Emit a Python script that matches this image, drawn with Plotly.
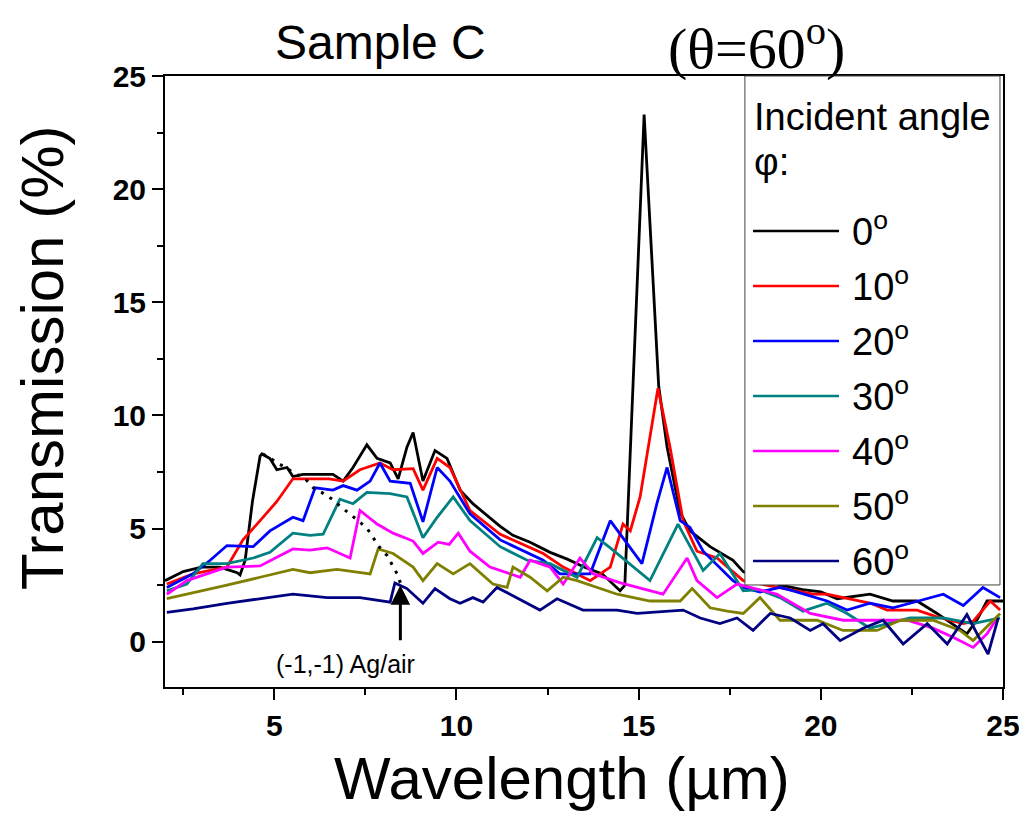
import plotly.graph_objs as go

# angle labels and colours for the 7 curves
angles = ['0', '10', '20', '30', '40', '50', '60']
colors = ['#000000', '#FF0000', '#0000FF', '#008080', '#FF00FF', '#808000', '#000080']

# wavelength (um) / transmission (%)
x0 = [2.0, 2.5, 3.0, 3.5, 3.7, 3.98, 4.06, 4.2, 4.4, 4.61, 4.66, 4.88, 5.07, 5.35, 5.51, 5.79, 6.3, 6.61, 6.89,
      7.16, 7.54, 7.82, 8.18, 8.4, 8.64, 8.81, 9.08, 9.41, 9.74, 10.1, 10.45, 10.84, 11.2, 11.55, 12.02, 12.57,
      13.04, 13.5, 14.0, 14.49, 14.62, 15.15, 15.55, 15.78, 16.14, 16.41, 16.96, 17.59, 17.87, 18.3, 18.9, 19.5,
      20.0, 20.45, 20.9, 21.35, 21.98, 22.64, 23.19, 23.6, 24.01, 24.3, 24.56, 25.0]
y0 = [2.7, 3.1, 3.3, 3.3, 3.2, 3.05, 2.95, 3.6, 6.2, 8.2, 8.3, 8.1, 7.6, 7.7, 7.3, 7.4, 7.4, 7.4, 7.1,
      7.7, 8.7, 8.1, 7.9, 7.2, 8.6, 9.25, 7.1, 8.45, 8.1, 6.7, 6.1, 5.6, 5.1, 4.7, 4.4, 3.95,
      3.65, 3.3, 3.0, 2.25, 2.5, 23.3, 11.3, 8.6, 5.7, 4.9, 4.2, 3.6, 3.1, 2.8, 2.5, 2.3,
      2.2, 1.9, 2.0, 2.1, 1.8, 1.8, 1.25, 0.8, 0.35, 1.0, 1.8, 1.8]

x1 = [2.05, 2.77, 3.7, 4.14, 4.61, 5.07, 5.51, 5.98, 6.5, 6.89, 7.35, 7.9, 8.26, 8.81, 9.08, 9.47, 9.82,
      10.37, 11.2, 12.38, 12.93, 13.67, 14.22, 14.57, 14.77, 15.04, 15.53, 15.86, 16.22, 16.6, 17.15, 17.87,
      18.5, 19.24, 19.79, 20.17, 20.8, 21.37, 21.82, 22.64, 23.19, 23.91, 24.18, 24.65, 24.92]
y1 = [2.55, 3.0, 3.3, 4.5, 5.35, 6.2, 7.2, 7.2, 7.2, 7.1, 7.6, 7.9, 7.6, 7.65, 6.7, 8.1, 7.7,
      5.8, 4.75, 3.9, 3.3, 2.7, 3.3, 5.2, 4.9, 6.4, 11.2, 8.6, 5.35, 4.0, 3.7, 2.7,
      2.5, 2.25, 2.1, 2.1, 1.9, 1.7, 1.4, 1.4, 1.1, 0.8, 0.9, 1.8, 1.4]

x2 = [2.05, 2.77, 3.24, 3.7, 4.42, 4.88, 5.51, 5.79, 6.12, 6.61, 6.89, 7.27, 7.63, 7.9, 8.18, 8.73, 9.08,
      9.47, 9.82, 10.37, 11.2, 12.38, 12.84, 13.67, 14.22, 14.57, 15.09, 15.5, 15.78, 16.14, 16.41, 16.77,
      17.59, 17.87, 18.33, 18.88, 19.24, 20.17, 20.72, 21.35, 21.98, 22.45, 23.36, 23.91, 24.45, 24.92]
y2 = [2.4, 3.0, 3.6, 4.25, 4.2, 4.9, 5.5, 5.35, 6.8, 6.7, 6.9, 6.7, 7.1, 7.9, 7.1, 7.0, 5.3,
      7.7, 7.1, 5.65, 4.5, 3.6, 3.0, 3.0, 5.35, 4.6, 3.45, 6.1, 7.7, 5.35, 5.05, 4.0,
      2.7, 2.4, 2.2, 2.4, 2.25, 1.8, 1.4, 1.7, 1.5, 1.7, 2.1, 1.6, 2.4, 1.95]

x3 = [2.05, 2.6, 3.04, 3.7, 4.42, 4.88, 5.51, 5.98, 6.34, 6.8, 7.16, 7.54, 8.18, 8.64, 9.08, 9.47, 9.91,
      10.37, 11.2, 11.94, 12.57, 13.31, 13.86, 14.22, 15.31, 16.08, 16.77, 17.23, 17.87, 18.3, 18.88, 19.51,
      20.17, 20.72, 21.35, 22.45, 23.36, 24.18, 24.92]
y3 = [2.25, 2.55, 3.45, 3.45, 3.7, 3.95, 4.8, 4.7, 4.75, 6.3, 6.1, 6.6, 6.55, 6.4, 4.6, 5.5, 6.4,
      5.35, 4.2, 3.6, 3.45, 2.85, 4.6, 4.15, 2.7, 5.2, 3.15, 3.9, 2.25, 2.3, 1.95, 1.35,
      1.7, 1.25, 0.6, 1.05, 1.05, 0.8, 1.05]

x4 = [2.05, 2.6, 3.7, 4.61, 5.51, 5.98, 6.45, 7.08, 7.35, 7.82, 8.26, 8.81, 9.08, 9.5, 9.8, 10.05, 10.37,
      10.92, 11.75, 12.02, 12.57, 12.93, 13.39, 13.75, 14.5, 15.31, 15.67, 16.33, 16.6, 17.15, 17.7, 18.06,
      18.8, 19.71, 20.61, 21.54, 22.37, 23.08, 23.63, 24.18, 24.56, 24.84]
y4 = [2.1, 2.7, 3.3, 3.35, 4.1, 4.05, 4.15, 3.7, 5.8, 5.2, 4.8, 4.45, 3.9, 4.4, 4.3, 4.8, 4.0,
      3.3, 2.85, 3.6, 3.3, 2.55, 3.7, 3.0, 2.6, 2.25, 2.1, 3.7, 2.7, 1.95, 2.55, 2.4,
      2.1, 1.25, 0.95, 0.95, 0.95, 0.6, 0.2, -0.25, 0.35, 1.05]

x5 = [2.05, 2.77, 3.7, 4.61, 5.51, 5.98, 6.72, 7.63, 7.85, 8.26, 8.81, 9.08, 9.47, 9.91, 10.37, 11.0, 11.39,
      11.55, 12.02, 12.49, 12.93, 13.31, 14.41, 15.31, 16.14, 16.47, 16.96, 17.43, 17.87, 18.33, 18.88, 19.9,
      20.61, 21.54, 22.18, 23.08, 23.82, 24.18, 24.92]
y5 = [1.9, 2.15, 2.5, 2.85, 3.2, 3.05, 3.2, 3.0, 4.1, 3.9, 3.3, 2.7, 3.45, 3.0, 3.45, 2.55, 2.4,
      3.3, 2.85, 2.25, 2.85, 2.7, 2.1, 1.8, 1.8, 2.35, 1.5, 1.35, 1.25, 1.95, 0.95, 0.95,
      0.5, 0.5, 0.95, 0.95, 0.5, 0.05, 1.25]

x6 = [2.05, 2.77, 3.7, 4.61, 5.51, 6.45, 7.35, 8.18, 8.31, 8.64, 9.08, 9.41, 9.82, 10.1, 10.45, 10.73, 11.11,
      11.47, 12.29, 12.76, 13.47, 14.41, 14.96, 16.22, 16.69, 17.23, 17.7, 18.14, 18.61, 19.16, 19.71, 20.06,
      20.53, 21.16, 21.71, 22.26, 22.92, 23.47, 24.01, 24.29, 24.59, 24.87]
y6 = [1.3, 1.45, 1.7, 1.9, 2.1, 1.95, 1.95, 1.75, 2.6, 2.35, 1.7, 2.35, 1.9, 1.7, 1.95, 1.75, 2.4,
      2.1, 1.4, 1.9, 1.4, 1.4, 1.25, 1.4, 1.05, 0.8, 1.05, 0.5, 1.25, 1.05, 0.5, 0.8,
      0.05, 0.6, 0.95, -0.1, 0.8, -0.1, 1.2, 0.35, -0.55, 1.05]

# dotted guide line for the (-1,-1) Ag/air mode
xd = [4.69, 5.08, 5.45, 5.85, 6.07, 6.3, 6.59, 6.8, 7.08, 7.3, 7.55, 7.71, 7.9, 8.1, 8.24, 8.37, 8.46]
yd = [8.3, 7.9, 7.55, 7.2, 6.8, 6.6, 6.3, 6.0, 5.65, 5.35, 5.0, 4.6, 4.15, 3.8, 3.35, 3.0, 2.6]

xs = [x0, x1, x2, x3, x4, x5, x6]
ys = [y0, y1, y2, y3, y4, y5, y6]

fig = go.Figure()
for xx, yy, a, c in zip(xs, ys, angles, colors):
    fig.add_trace(go.Scatter(x=xx, y=yy, mode='lines', name=a + '°',
                             line=dict(color=c, width=2.8), showlegend=False))

fig.add_trace(go.Scatter(x=xd, y=yd, mode='lines', showlegend=False,
                         line=dict(color='black', width=3, dash='3px,7px')))

axis_font = dict(family='Liberation Sans, Arial', size=30, color='black', weight='bold')
minor_ticks = dict(tickvals=[2.5, 7.5, 12.5, 17.5, 22.5], ticks='outside', ticklen=6,
                   tickwidth=2, tickcolor='black')
fig.update_layout(
    width=1027, height=823,
    # page has an 8px body margin, so shift the plot area back by 8px
    margin=dict(l=157, r=32, t=68, b=144),
    paper_bgcolor='white', plot_bgcolor='white',
    font=dict(family='Liberation Sans, Arial', color='black'),
    xaxis=dict(range=[2, 25], tickvals=[5, 10, 15, 20, 25], ticks='outside', ticklen=11, tickwidth=2,
               tickcolor='black', showline=True, linecolor='black', linewidth=2, mirror=True,
               showgrid=False, zeroline=False, tickfont=axis_font, ticklabelstandoff=0,
               minor=minor_ticks),
    yaxis=dict(range=[-2, 25], tickvals=[0, 5, 10, 15, 20, 25], ticks='outside', ticklen=11, tickwidth=2,
               tickcolor='black', showline=True, linecolor='black', linewidth=2, mirror=True,
               showgrid=False, zeroline=False, tickfont=axis_font, minor=minor_ticks),
)


def label(text, x, y, size, xref='paper', yref='paper', family=None, **kw):
    kw.setdefault('xanchor', 'center')
    fig.add_annotation(text=text, x=x, y=y, xref=xref, yref=yref, showarrow=False,
                       yanchor='middle', font=dict(size=size, family=family), **kw)


# titles
label('Sample C', 0.2566, 1.0556, 48)
label('(θ=60<sup>o</sup>)', 0.7064, 1.051, 58, family='Liberation Serif, Times New Roman')
label('Wavelength (µm)', 0.4737, -0.149, 60)
label('Transmission (%)', -0.1468, 0.54, 60, textangle=-90)

# arrow + label
fig.add_annotation(x=8.46, y=2.5, ax=8.46, ay=0.0, xref='x', yref='y', axref='x', ayref='y', text='',
                   showarrow=True, arrowhead=2, arrowsize=1.3, arrowwidth=3, arrowcolor='black')
label('(-1,-1) Ag/air', 6.95, -0.97, 25, xref='x', yref='y')

# legend box drawn by hand so the lines are long like the original
fig.add_shape(type='rect', xref='paper', yref='paper', x0=0.692, x1=0.9964, y0=0.167, y1=1.0,
              line=dict(color='#444444', width=1), fillcolor='white', layer='above')
label('Incident angle', 0.7005, 0.9329, 38, xanchor='left')
label('φ:', 0.7005, 0.8593, 38, xanchor='left')
for i, (a, c) in enumerate(zip(angles, colors)):
    yy = 0.7463 - i * 0.09002
    fig.add_shape(type='line', xref='paper', yref='paper', x0=0.7017, x1=0.8043, y0=yy, y1=yy,
                  line=dict(color=c, width=2.5), layer='above')
    label(a + '<sup>o</sup>', 0.8174, yy + 0.004, 38, xanchor='left')

fig.write_html('out.html')
